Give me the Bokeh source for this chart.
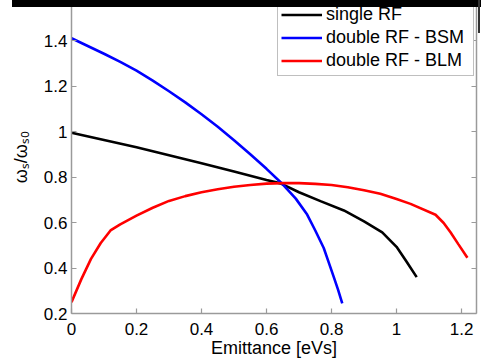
from bokeh.plotting import figure
from bokeh.models import Range1d, LinearAxis, FixedTicker, Legend, LegendItem, Div
from bokeh.layouts import column
from bokeh.embed import file_html
from bokeh.resources import INLINE

# single RF
single_x = [0, 0.1, 0.2, 0.3, 0.4, 0.5, 0.6, 0.643, 0.7, 0.766, 0.838, 0.9, 0.956, 1.0, 1.03, 1.062]
single_y = [0.995, 0.963, 0.931, 0.896, 0.861, 0.824, 0.787, 0.772, 0.733, 0.694, 0.653, 0.605, 0.557, 0.493, 0.43, 0.36]

# double RF - BSM
bsm_x = [0, 0.05, 0.1, 0.15, 0.2, 0.25, 0.3, 0.35, 0.4, 0.45, 0.5, 0.55, 0.6, 0.645,
         0.69, 0.725, 0.75, 0.776, 0.79, 0.807, 0.82, 0.833]
bsm_y = [1.41, 1.376, 1.342, 1.306, 1.268, 1.224, 1.177, 1.128, 1.076, 1.021, 0.962, 0.9, 0.836, 0.775,
         0.705, 0.635, 0.565, 0.488, 0.43, 0.36, 0.305, 0.245]

# double RF - BLM
blm_x = [0, 0.03, 0.06, 0.09, 0.12, 0.15, 0.2, 0.25, 0.3, 0.35, 0.4, 0.45, 0.5, 0.55, 0.6, 0.65,
         0.7, 0.75, 0.8, 0.85, 0.9, 0.95, 1.0, 1.043, 1.12, 1.145, 1.166, 1.19, 1.218]
blm_y = [0.25, 0.35, 0.44, 0.51, 0.565, 0.592, 0.63, 0.665, 0.695, 0.716, 0.733, 0.746, 0.757, 0.765, 0.771, 0.773,
         0.773, 0.77, 0.765, 0.755, 0.742, 0.726, 0.703, 0.682, 0.634, 0.598, 0.557, 0.505, 0.445]

x_ticks = [0, 0.2, 0.4, 0.6, 0.8, 1.0, 1.2]
x_tick_labels = ["0", "0.2", "0.4", "0.6", "0.8", "1", "1.2"]
y_ticks = [0.2, 0.4, 0.6, 0.8, 1.0, 1.2, 1.4]
y_tick_labels = ["0.2", "0.4", "0.6", "0.8", "1", "1.2", "1.4"]

FONT = "Liberation Sans"
AXC = "#9a9a9a"

p = figure(width=481, height=361, output_backend="svg", toolbar_location=None,
           x_range=Range1d(0, 1.246), y_range=Range1d(0.2, 1.576),
           min_border_left=71, min_border_right=5, min_border_top=0, min_border_bottom=48,
           x_axis_label="Emittance [eVs]", y_axis_label="ωₛ/ωₛ₀")
p.outline_line_color = None
p.xgrid.visible = False
p.ygrid.visible = False
p.background_fill_color = "white"
p.border_fill_color = "white"

r1 = p.line(single_x, single_y, line_color="black", line_width=2.6)
r2 = p.line(bsm_x, bsm_y, line_color="#0000ff", line_width=2.6)
r3 = p.line(blm_x, blm_y, line_color="#ff0000", line_width=2.6)

def style_axis(ax, ticks, labels, show_labels=True):
    ax.ticker = FixedTicker(ticks=ticks)
    ax.major_label_overrides = {t: l for t, l in zip(ticks, labels)}
    ax.axis_line_color = AXC
    ax.axis_line_width = 1.5
    ax.major_tick_line_color = AXC
    ax.major_tick_line_width = 1.2
    ax.major_tick_in = 5
    ax.major_tick_out = 0
    ax.minor_tick_line_color = None
    ax.major_label_text_font = FONT
    ax.major_label_text_color = "black"
    ax.major_label_text_font_size = "17px" if show_labels else "0px"
    ax.axis_label_text_font = FONT
    ax.axis_label_text_font_style = "normal"
    ax.axis_label_text_font_size = "18px"
    ax.axis_label_text_color = "black"

style_axis(p.xaxis[0], x_ticks, x_tick_labels)
p.xaxis[0].major_label_standoff = 9
p.xaxis[0].axis_label_standoff = 0
style_axis(p.yaxis[0], y_ticks, y_tick_labels)
p.yaxis[0].major_label_standoff = 4
p.yaxis[0].axis_label_standoff = 10

rax = LinearAxis()
style_axis(rax, y_ticks, ["" for _ in y_ticks], show_labels=False)
rax.major_label_standoff = 0
p.add_layout(rax, "right")

legend = Legend(items=[LegendItem(label="single RF", renderers=[r1]),
                       LegendItem(label="double RF - BSM", renderers=[r2]),
                       LegendItem(label="double RF - BLM", renderers=[r3])],
                location=(206, 237))
legend.padding = 3
legend.margin = 0
legend.spacing = 0
legend.glyph_width = 41
legend.glyph_height = 23
legend.label_height = 23
legend.label_width = 144
legend.label_standoff = 4
legend.label_text_font = FONT
legend.label_text_font_size = "18px"
legend.label_text_color = "black"
legend.border_line_color = "#808080"
legend.border_line_width = 1
legend.background_fill_alpha = 1.0
p.add_layout(legend, "center")

overlay = Div(
    text=('<div style="position:absolute;left:12px;top:0px;width:469px;height:7px;'
          'background:#000;z-index:10"></div>'
          '<div style="position:absolute;left:478px;top:0px;width:2px;height:33px;'
          'background:#333;z-index:10"></div>'),
    width=481, height=0, margin=(0, 0, 0, 0),
    styles={"overflow": "visible"})

layout = column(overlay, p, spacing=0)
open("out.html", "w").write(file_html(layout, INLINE))
